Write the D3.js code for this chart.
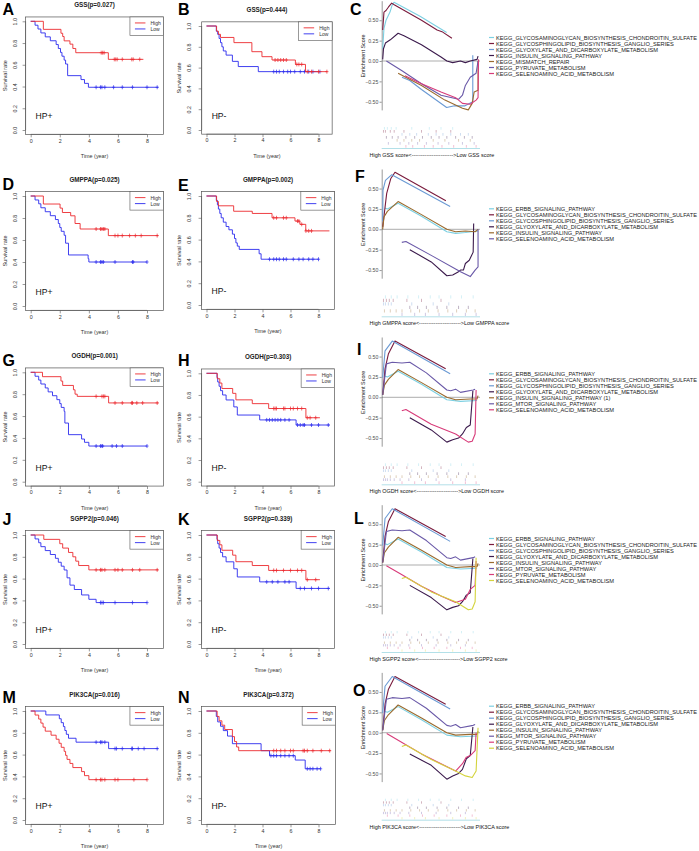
<!DOCTYPE html>
<html><head><meta charset="utf-8">
<script src="https://cdn.jsdelivr.net/npm/d3@7"></script>
<style>
body{margin:0;background:#fff}
svg{display:block}
text{font-family:"Liberation Sans",Arial,Helvetica,sans-serif}
</style></head>
<body><svg id="c" width="699" height="851"></svg>
<script>
// ================= DATA =================
const kmTitles = ["GSS(p=0.027)","GSS(p=0.444)","GMPPA(p=0.025)","GMPPA(p=0.002)","OGDH(p=0.001)","OGDH(p=0.303)","SGPP2(p=0.046)","SGPP2(p=0.339)","PIK3CA(p=0.016)","PIK3CA(p=0.372)"];
const kmGroups = ["HP+","HP-","HP+","HP-","HP+","HP-","HP+","HP-","HP+","HP-"];
const kmLetters = ["A","B","D","E","G","H","J","K","M","N"];
const legendLabels = ["High","Low"];
const xTicks = [0,2,4,6,8];
const yTicks = [0,0.2,0.4,0.6,0.8,1.0];

const A_high = [[0,1],[0.87,0.926],[2.08,0.89],[2.2,0.86],[2.3,0.82],[2.7,0.79],[2.9,0.75],[3.1,0.711],[5.34,0.65],[7.75,0.65]];
const A_highC = [4.85,4.95,5.05,5.75,5.85,5.95,6.3,6.95,7.05,7.5];
const A_low = [[0,1],[0.3,0.964],[0.5,0.929],[0.7,0.893],[1.0,0.857],[1.35,0.821],[1.75,0.786],[1.9,0.75],[2.05,0.714],[2.15,0.679],[2.3,0.643],[2.4,0.607],[2.54,0.5],[3.46,0.464],[3.7,0.429],[3.97,0.393],[8.78,0.393]];
const A_lowC = [4.5,4.8,4.9,5.1,5.7,6.3,7.0,8.0,8.7];

const B_high = [[0,1],[0.72,0.95],[0.85,0.92],[1.0,0.89],[1.96,0.84],[3.24,0.753],[3.96,0.705],[4.68,0.673],[6.35,0.631],[7.07,0.561],[8.63,0.561]];
const B_highC = [4.9,5.1,5.3,5.5,5.7,6.45,6.6,6.8,7.2,7.5,8.0,8.6];
const B_low = [[0,1],[0.7,0.95],[0.8,0.92],[0.9,0.88],[1.0,0.84],[1.1,0.8],[1.2,0.76],[1.4,0.72],[1.85,0.66],[2.27,0.61],[3.7,0.561],[8.1,0.561]];
const B_lowC = [4.8,5.0,5.2,5.5,5.8,6.0,6.3,6.7,7.0,7.3,7.6,8.1];

const D_high = [[0,1],[0.87,0.927],[2.02,0.89],[2.18,0.85],[2.75,0.82],[3.05,0.75],[3.4,0.70],[5.34,0.64],[8.78,0.64]];
const D_highC = [4.5,4.8,4.9,5.0,5.1,5.8,6.0,6.3,6.8,7.2,7.6,8.7];
const D_low = [[0,1],[0.3,0.964],[0.55,0.929],[0.7,0.893],[1.0,0.857],[1.35,0.821],[1.7,0.786],[1.9,0.75],[2.0,0.714],[2.1,0.679],[2.3,0.643],[2.4,0.571],[2.6,0.464],[3.95,0.43],[4.0,0.40],[8.0,0.40]];
const D_lowC = [4.5,4.8,4.9,5.0,5.8,7.0,7.05,8.0];

const E_high = [[0,1],[0.72,0.95],[0.85,0.91],[1.94,0.86],[3.27,0.84],[4.68,0.80],[6.32,0.77],[6.67,0.74],[7.09,0.68],[8.78,0.68]];
const E_highC = [4.8,5.0,5.5,5.7,6.5,6.6,6.8,7.1,7.3,7.5];
const E_low = [[0,1],[0.7,0.96],[0.78,0.92],[0.85,0.88],[0.95,0.84],[1.05,0.8],[1.2,0.76],[1.4,0.72],[1.6,0.69],[1.85,0.65],[2.0,0.61],[2.1,0.57],[2.2,0.54],[2.34,0.51],[3.76,0.47],[3.9,0.42],[8.0,0.42]];
const E_lowC = [4.5,4.8,5.0,5.2,5.5,5.7,6.2,6.6,6.9,7.3,7.6,8.0];

const G_high = [[0,1],[0.81,0.96],[2.08,0.92],[2.2,0.88],[2.94,0.84],[3.05,0.80],[3.2,0.78],[5.36,0.72],[8.79,0.72]];
const G_highC = [4.5,4.9,5.0,5.1,5.8,6.3,6.95,7.0,7.3,7.7,8.7];
const G_low = [[0,1],[0.3,0.964],[0.55,0.929],[0.7,0.893],[1.0,0.857],[1.2,0.821],[1.5,0.786],[1.8,0.75],[2.0,0.714],[2.1,0.679],[2.3,0.643],[2.35,0.536],[2.6,0.43],[3.5,0.39],[3.7,0.36],[4.0,0.326],[8.0,0.326]];
const G_lowC = [4.5,4.8,4.9,4.95,5.6,5.9,6.3,8.0];

const H_high = [[0,1],[0.77,0.95],[0.95,0.91],[1.1,0.86],[1.87,0.815],[2.1,0.755],[3.27,0.72],[4.44,0.675],[7.1,0.59],[8.1,0.59]];
const H_highC = [4.8,4.9,5.0,5.5,5.6,6.0,6.2,6.5,6.8,7.2,7.4,7.8];
const H_low = [[0,1],[0.75,0.96],[0.8,0.92],[0.9,0.88],[1.0,0.84],[1.15,0.8],[1.4,0.754],[1.95,0.69],[2.2,0.615],[3.8,0.57],[6.4,0.523],[8.8,0.523]];
const H_lowC = [4.3,4.5,4.7,4.9,5.1,5.3,5.6,5.9,6.5,6.7,6.9,7.0,7.5,8.0,8.7];

const J_high = [[0,1],[0.9,0.96],[2.0,0.92],[2.2,0.88],[2.6,0.84],[2.9,0.8],[3.1,0.76],[3.3,0.72],[4.0,0.68],[8.78,0.68]];
const J_highC = [4.5,4.8,4.9,5.1,5.8,6.0,6.3,7.0,7.5,8.7];
const J_low = [[0,1],[0.3,0.964],[0.55,0.929],[0.7,0.893],[1.0,0.857],[1.35,0.821],[1.7,0.786],[1.9,0.75],[2.1,0.714],[2.3,0.679],[2.5,0.607],[2.7,0.54],[3.0,0.5],[3.5,0.45],[4.0,0.41],[4.5,0.38],[8.0,0.38]];
const J_lowC = [4.8,4.9,5.0,5.8,7.0,8.0];

const K_high = [[0,1],[0.77,0.95],[0.95,0.91],[1.1,0.86],[1.87,0.815],[2.1,0.755],[3.27,0.72],[4.44,0.675],[7.1,0.59],[8.1,0.59]];
const K_highC = [4.8,5.0,5.5,6.0,6.5,6.8,7.2,7.8];
const K_low = [[0,1],[0.75,0.96],[0.8,0.92],[0.9,0.88],[1.0,0.84],[1.15,0.8],[1.4,0.754],[1.95,0.69],[2.2,0.615],[3.8,0.57],[6.4,0.51],[8.8,0.51]];
const K_lowC = [4.3,4.7,5.1,5.6,5.9,6.7,7.0,7.5,8.0,8.7];

const M_high = [[0,1],[0.3,0.963],[0.55,0.926],[0.7,0.889],[0.85,0.852],[1.0,0.815],[1.4,0.778],[1.75,0.741],[1.95,0.704],[2.1,0.667],[2.3,0.63],[2.4,0.593],[2.5,0.556],[2.7,0.519],[2.9,0.481],[3.5,0.444],[3.7,0.407],[4.0,0.37],[8.0,0.37]];
const M_highC = [4.5,4.8,4.9,5.1,5.8,6.0,7.1,8.0];
const M_low = [[0,1],[1.04,0.964],[1.97,0.929],[2.1,0.893],[2.25,0.857],[2.35,0.821],[2.45,0.786],[2.6,0.75],[3.12,0.714],[5.36,0.655],[8.78,0.655]];
const M_lowC = [4.5,4.8,4.9,5.1,5.8,5.9,6.3,6.95,7.0,7.4,7.8,8.7];

const N_high = [[0,1],[0.76,0.95],[0.9,0.91],[1.1,0.87],[1.3,0.83],[1.85,0.765],[2.0,0.72],[2.15,0.67],[2.3,0.636],[8.87,0.636]];
const N_highC = [4.8,5.0,5.3,5.6,6.0,6.2,6.9,7.0,7.2,7.6,8.2,8.8];
const N_low = [[0,1],[0.7,0.95],[0.8,0.9],[1.0,0.86],[1.2,0.82],[1.5,0.77],[1.85,0.70],[3.9,0.636],[4.5,0.59],[6.34,0.55],[7.05,0.47],[8.15,0.47]];
const N_lowC = [4.6,4.8,5.0,5.3,5.6,5.9,6.2,7.2,7.4,7.6,7.9,8.15];

// GSEA
const gseaLetters = ["C","F","I","L","O"];
const gseaGenes = ["GSS","GMPPA","OGDH","SGPP2","PIK3CA"];
const esTicks = [-0.5,-0.25,0,0.25,0.5];
const C_sets = ["KEGG_GLYCOSAMINOGLYCAN_BIOSYNTHESIS_CHONDROITIN_SULFATE","KEGG_GLYCOSPHINGOLIPID_BIOSYNTHESIS_GANGLIO_SERIES","KEGG_GLYOXYLATE_AND_DICARBOXYLATE_METABOLISM","KEGG_INSULIN_SIGNALING_PATHWAY","KEGG_MISMATCH_REPAIR","KEGG_PYRUVATE_METABOLISM","KEGG_SELENOAMINO_ACID_METABOLISM"];
const F_sets = ["KEGG_ERBB_SIGNALING_PATHWAY","KEGG_GLYCOSAMINOGLYCAN_BIOSYNTHESIS_CHONDROITIN_SULFATE","KEGG_GLYCOSPHINGOLIPID_BIOSYNTHESIS_GANGLIO_SERIES","KEGG_GLYOXYLATE_AND_DICARBOXYLATE_METABOLISM","KEGG_INSULIN_SIGNALING_PATHWAY","KEGG_SELENOAMINO_ACID_METABOLISM"];
const I_sets = ["KEGG_ERBB_SIGNALING_PATHWAY","KEGG_GLYCOSAMINOGLYCAN_BIOSYNTHESIS_CHONDROITIN_SULFATE","KEGG_GLYCOSPHINGOLIPID_BIOSYNTHESIS_GANGLIO_SERIES","KEGG_GLYOXYLATE_AND_DICARBOXYLATE_METABOLISM","KEGG_INSULIN_SIGNALING_PATHWAY (1)","KEGG_MTOR_SIGNALING_PATHWAY","KEGG_SELENOAMINO_ACID_METABOLISM"];
const L_sets = ["KEGG_ERBB_SIGNALING_PATHWAY","KEGG_GLYCOSAMINOGLYCAN_BIOSYNTHESIS_CHONDROITIN_SULFATE","KEGG_GLYCOSPHINGOLIPID_BIOSYNTHESIS_GANGLIO_SERIES","KEGG_GLYOXYLATE_AND_DICARBOXYLATE_METABOLISM","KEGG_INSULIN_SIGNALING_PATHWAY","KEGG_MTOR_SIGNALING_PATHWAY","KEGG_PYRUVATE_METABOLISM","KEGG_SELENOAMINO_ACID_METABOLISM"];
const O_sets = ["KEGG_ERBB_SIGNALING_PATHWAY","KEGG_GLYCOSAMINOGLYCAN_BIOSYNTHESIS_CHONDROITIN_SULFATE","KEGG_GLYCOSPHINGOLIPID_BIOSYNTHESIS_GANGLIO_SERIES","KEGG_GLYOXYLATE_AND_DICARBOXYLATE_METABOLISM","KEGG_INSULIN_SIGNALING_PATHWAY","KEGG_MTOR_SIGNALING_PATHWAY","KEGG_PYRUVATE_METABOLISM","KEGG_SELENOAMINO_ACID_METABOLISM"];

const C_curves = [
 [[0.2,0.15],[1.5,0.4],[3.6,0.5],[5.6,0.55],[7.7,0.6],[9.7,0.68],[11.8,0.72],[38.5,0.55],[65.8,0.35]],
 [[0.2,0.38],[1.5,0.6],[3.6,0.62],[6,0.66],[9.4,0.71],[12,0.69],[40,0.5],[56,0.38],[61,0.36],[71.2,0.28]],
 [[20,-0.2],[28,-0.24],[40,-0.35],[65.8,-0.57],[74,-0.55],[84.6,-0.55],[92.6,-0.5],[92.6,0.07]],
 [[0.2,0.02],[1,0.15],[3,0.22],[8,0.26],[16,0.34],[22,0.31],[40,0.2],[60,0.05],[66,0.0],[72,-0.02],[80,0.0],[85,-0.02],[90,0.0],[97,0.02],[98,0.06]],
 [[16,-0.15],[40,-0.3],[64,-0.48],[82,-0.58],[88,-0.6],[92,-0.52],[94,-0.38],[98,-0.36],[98,0.0]],
 [[4,0.0],[20,-0.12],[40,-0.28],[60,-0.42],[78,-0.47],[82,-0.42],[85,-0.3],[90,-0.2],[96,-0.15],[98,0.0]],
 [[23,-0.18],[40,-0.28],[60,-0.38],[75,-0.45],[82,-0.52],[90,-0.53],[96,-0.48],[98,-0.45],[98.5,0.02]]
];
const F_curves = [
 [[2.5,0.26],[5,0.25],[16,0.32],[40,0.16],[66,-0.03],[75,-0.05],[85,-0.04],[98,-0.02]],
 [[0.2,0.03],[4.3,0.44],[8.4,0.62],[12.8,0.70],[65,0.35]],
 [[0.2,0.1],[0.5,0.48],[3,0.6],[9.5,0.67],[69.4,0.28]],
 [[28,-0.25],[50,-0.4],[66,-0.57],[72,-0.56],[78,-0.52],[80,-0.5],[83,-0.5],[85,-0.42],[89,-0.38],[93,-0.28],[93.5,0.07]],
 [[0.2,0.0],[1.5,0.15],[5,0.22],[16,0.34],[40,0.18],[66,0.0],[75,-0.03],[85,-0.02],[95,-0.03],[98,0.0]],
 [[19.8,-0.16],[24,-0.15],[50,-0.32],[80,-0.52],[90,-0.58],[95,-0.5],[98,-0.46],[98,0.0]]
];
const I_curves = [
 [[2.5,0.26],[5,0.25],[16,0.32],[40,0.16],[66,-0.03],[80,-0.05],[97,-0.04]],
 [[0.2,0.03],[2.6,0.35],[6,0.53],[12.8,0.69],[64.8,0.35]],
 [[0.2,0.24],[2.6,0.57],[10,0.69],[69.4,0.29]],
 [[28,-0.25],[50,-0.4],[66,-0.55],[72,-0.52],[78,-0.5],[82,-0.45],[86,-0.37],[90,-0.34],[92.7,0.08]],
 [[0.2,0.03],[2,0.15],[6,0.22],[16,0.34],[40,0.18],[66,0.0],[75,-0.03],[90,-0.02],[97,-0.02],[98,0.02]],
 [[0.2,0.03],[4,0.41],[10,0.43],[20,0.42],[28,0.43],[45,0.3],[66,0.09],[70,0.08],[75,0.1],[80,0.06],[93,0.09],[95,0.1]],
 [[19.8,-0.165],[24,-0.15],[50,-0.33],[75,-0.45],[88,-0.55],[92,-0.54],[95,-0.45],[96,0.09]]
];
const L_curves = [
 [[2.5,0.26],[5,0.25],[16,0.32],[40,0.16],[66,-0.03],[80,-0.05],[97,-0.04]],
 [[0.2,0.03],[2.6,0.35],[6,0.53],[12.8,0.69],[64.8,0.35]],
 [[0.2,0.24],[2.6,0.57],[10,0.69],[69.4,0.29]],
 [[28,-0.25],[50,-0.4],[66,-0.55],[72,-0.52],[78,-0.5],[82,-0.45],[86,-0.37],[90,-0.34],[92.7,0.08]],
 [[0.2,0.03],[2,0.15],[6,0.22],[16,0.34],[40,0.18],[66,0.0],[75,-0.03],[90,-0.02],[97,-0.02],[98,0.02]],
 [[0.2,0.03],[4,0.41],[10,0.43],[20,0.42],[28,0.43],[45,0.3],[66,0.09],[70,0.08],[75,0.1],[80,0.06],[93,0.09],[95,0.1]],
 [[4,-0.01],[20,-0.12],[40,-0.26],[60,-0.38],[75,-0.46],[85,-0.42],[90,-0.3],[95,-0.25],[96,0.05]],
 [[19.8,-0.165],[24,-0.15],[50,-0.33],[75,-0.45],[88,-0.55],[92,-0.54],[95,-0.45],[96,0.09]]
];
const O_curves = [
 [[2.5,0.26],[5,0.25],[16,0.32],[40,0.16],[66,-0.03],[80,-0.05],[97,-0.04]],
 [[0.2,0.03],[2.6,0.35],[6,0.53],[12.8,0.69],[64.8,0.35]],
 [[0.2,0.24],[2.6,0.57],[10,0.69],[69.4,0.29]],
 [[28,-0.26],[50,-0.4],[66,-0.57],[72,-0.53],[78,-0.5],[82,-0.45],[86,-0.32],[90,-0.28],[92.7,0.07]],
 [[0.2,0.03],[2,0.15],[6,0.22],[16,0.34],[40,0.18],[66,0.0],[75,-0.03],[90,-0.02],[97,-0.02],[98,0.02]],
 [[0.2,0.03],[4,0.41],[10,0.43],[20,0.42],[28,0.43],[45,0.3],[66,0.09],[70,0.08],[75,0.1],[80,0.06],[93,0.09],[95,0.1]],
 [[4.3,-0.01],[20,-0.12],[40,-0.26],[60,-0.38],[75,-0.47],[82,-0.38],[86,-0.3],[90,-0.28],[95,-0.22],[96,0.0]],
 [[19.8,-0.17],[24,-0.15],[50,-0.33],[75,-0.47],[85,-0.53],[92,-0.55],[96,-0.47],[98,0.06]]
];
const C_hits = [[2,5,9,14,30,48,60,72],[1,3,8,12,22,40,55,70],[20,28,35,47,55,62,70,80,88],[4,10,16,24,33,41,50,58,66,75,84,92],[15,22,30,38,52,64,78,90],[6,18,27,36,45,57,68,82,94],[24,31,43,52,61,73,86,96]];
const F_hits = [[3,9,15,26,37,49,58,70,81,93],[1,4,7,11,25,40,60],[1,3,6,9,30,52,68],[28,36,45,56,66,78,88],[2,8,14,20,29,38,47,57,67,76,86,95],[20,33,44,58,72,85,96]];
const I_hits = [[3,9,15,26,37,49,58,70,81,93],[1,4,7,11,25,40,60],[1,3,6,9,30,52,68],[28,36,45,56,66,78,88],[2,8,14,20,29,38,47,57,67,76,86,95],[1,3,5,8,12,18,27,40,55,70,85],[20,33,44,58,72,85,96]];
const L_hits = [[3,9,15,26,37,49,58,70,81,93],[1,4,7,11,25,40,60],[1,3,6,9,30,52,68],[28,36,45,56,66,78,88],[2,8,14,20,29,38,47,57,67,76,86,95],[1,3,5,8,12,18,27,40,55,70,85],[5,16,28,41,53,66,80,92],[20,33,44,58,72,85,96]];
const O_hits = [[3,9,15,26,37,49,58,70,81,93],[1,4,7,11,25,40,60],[1,3,6,9,30,52,68],[28,36,45,56,66,78,88],[2,8,14,20,29,38,47,57,67,76,86,95],[1,3,5,8,12,18,27,40,55,70,85],[5,16,28,41,53,66,80,92],[20,33,44,58,72,85,96]];

// ================= STYLE / LAYOUT =================
const RED = "#ec2a2f", BLUE = "#2b2bee";
const setColors = ["#7dd0e2","#7a1b3d","#6b9ad4","#3b1a4c","#9a6a2e","#6a59a8","#d83c7a","#d4d43e"];
const kmCols = [
  {x0:30.7, x8:147, tickLabX:15, ylabX:4.5, letterX:2.5},
  {x0:206.5, x8:318.5, tickLabX:189.3, ylabX:178.5, letterX:178}
];
const kmRows = [
  {y1:21.3,y0:130},{y1:26,y0:130},
  {y1:196,y0:306},{y1:196,y0:305},
  {y1:372.3,y0:481.7},{y1:373.3,y0:481.7},
  {y1:535,y0:644},{y1:535,y0:644},
  {y1:711,y0:820},{y1:711,y0:820}
];
const kmLetterY = [15,15,190,190.5,366,366,525,525,703,702.7];
const gseaLayout = [
  {es0:61, letterX:350, letterY:15},
  {es0:229.3, letterX:355, letterY:182},
  {es0:397.3, letterX:357, letterY:355},
  {es0:565, letterX:354, letterY:524},
  {es0:732.7, letterX:353, letterY:696}
];

const svg = d3.select("#c");
const kmData = [
 [A_high,A_highC,A_low,A_lowC],[B_high,B_highC,B_low,B_lowC],
 [D_high,D_highC,D_low,D_lowC],[E_high,E_highC,E_low,E_lowC],
 [G_high,G_highC,G_low,G_lowC],[H_high,H_highC,H_low,H_lowC],
 [J_high,J_highC,J_low,J_lowC],[K_high,K_highC,K_low,K_lowC],
 [M_high,M_highC,M_low,M_lowC],[N_high,N_highC,N_low,N_lowC]
];

function survAt(steps, t){ let s = steps[0][1]; for (const d of steps) if (d[0] <= t) s = d[1]; return s; }

kmData.forEach((dd, i) => {
  const col = kmCols[i % 2], row = kmRows[i];
  const [hi, hiC, lo, loC] = dd;
  const x = d3.scaleLinear().domain([0,8]).range([col.x0, col.x8]);
  const y = d3.scaleLinear().domain([0,1]).range([row.y0, row.y1]);
  const maxT = d3.max(hi.concat(lo), d => d[0]);
  const bl = x(-0.04*maxT), br = x(1.04*maxT), bt = y(1.04), bb = y(-0.04);
  const g = svg.append("g");
  const xa = g.append("g").attr("transform",`translate(0,${bb})`)
    .call(d3.axisBottom(x).tickValues(xTicks).tickSize(3).tickSizeOuter(0).tickPadding(1.5));
  xa.select(".domain").attr("d", `M${x(0)},0H${x(8)}`).attr("stroke","#555").attr("stroke-width",0.6);
  xa.selectAll(".tick line").attr("stroke","#555").attr("stroke-width",0.6);
  xa.selectAll(".tick text").attr("font-size",5.3).attr("fill","#333").attr("font-family",null);
  const ya = g.append("g").attr("transform",`translate(${bl},0)`)
    .call(d3.axisLeft(y).tickValues(yTicks).tickSize(3).tickSizeOuter(0).tickFormat(d3.format(".1f")));
  ya.select(".domain").attr("d", `M0,${y(0)}V${y(1)}`).attr("stroke","#555").attr("stroke-width",0.6);
  ya.selectAll(".tick line").attr("stroke","#555").attr("stroke-width",0.6);
  ya.selectAll(".tick text").attr("font-size",5.3).attr("fill","#333").attr("font-family",null)
    .attr("x",0).attr("dy",null).attr("text-anchor","middle").attr("dominant-baseline","central")
    .attr("transform", `translate(${col.tickLabX - bl},0) rotate(-90)`);
  g.append("rect").attr("x",bl).attr("y",bt).attr("width",br-bl).attr("height",bb-bt)
    .attr("fill","none").attr("stroke","#555").attr("stroke-width",0.7);
  g.append("text").attr("x",(bl+br)/2).attr("y",row.y1-14.5).attr("text-anchor","middle")
    .attr("font-size",6.3).attr("font-weight","bold").attr("fill","#222").text(kmTitles[i]);
  g.append("text").attr("x",(bl+br)/2).attr("y",bb+24).attr("text-anchor","middle")
    .attr("font-size",5.4).attr("fill","#333").text("Time (year)");
  g.append("text").attr("transform",`translate(${col.ylabX},${(row.y0+row.y1)/2}) rotate(-90)`)
    .attr("text-anchor","middle").attr("dominant-baseline","central")
    .attr("font-size",5.6).attr("fill","#333").text("Survival rate");
  g.append("text").attr("x",bl+10).attr("y",row.y0-11).attr("font-size",8.6).attr("fill","#111").text(kmGroups[i]);
  g.append("text").attr("x",col.letterX).attr("y",kmLetterY[i]).attr("font-size",16).attr("font-weight","bold").attr("fill","#000").text(kmLetters[i]);
  const line = d3.line().x(d=>x(d[0])).y(d=>y(d[1])).curve(d3.curveStepAfter);
  [[lo,loC,BLUE],[hi,hiC,RED]].forEach(([st,cs,colr]) => {
    g.append("path").attr("d",line(st)).attr("fill","none").attr("stroke",colr).attr("stroke-width",0.9);
    cs.forEach(c => {
      const cx = x(c), cy = y(survAt(st,c));
      g.append("path").attr("d",`M${cx},${cy-2}V${cy+2}M${cx-1.6},${cy}H${cx+1.6}`).attr("stroke",colr).attr("stroke-width",0.7);
    });
  });
  const lw = 33.5, lh = 18.5, lx = br - lw, ly = bt;
  g.append("rect").attr("x",lx).attr("y",ly).attr("width",lw).attr("height",lh).attr("fill","#fff").attr("stroke","#555").attr("stroke-width",0.6);
  [RED,BLUE].forEach((colr,k) => {
    const yy = ly + 6 + k*6;
    g.append("line").attr("x1",lx+5).attr("x2",lx+15.5).attr("y1",yy).attr("y2",yy).attr("stroke",colr).attr("stroke-width",0.9);
    g.append("text").attr("x",lx+20.5).attr("y",yy).attr("dominant-baseline","central").attr("font-size",5).attr("fill","#333").text(legendLabels[k]);
  });
});

// ================= GSEA =================
const gseaSets = [C_sets,F_sets,I_sets,L_sets,O_sets];
const gseaCurves = [C_curves,F_curves,I_curves,L_curves,O_curves];
const gseaHits = [C_hits,F_hits,I_hits,L_hits,O_hits];
const AXX = 381.7, PPU = 81.5;

gseaLayout.forEach((lay, i) => {
  const es0 = lay.es0;
  const x = d3.scaleLinear().domain([0,100]).range([382.5,480]);
  const y = d3.scaleLinear().domain([-0.6,0.74]).range([es0+0.6*PPU, es0-0.74*PPU]);
  const g = svg.append("g");
  g.append("text").attr("x",lay.letterX).attr("y",lay.letterY).attr("font-size",16).attr("font-weight","bold").attr("fill","#000").text(gseaLetters[i]);
  g.append("line").attr("x1",AXX).attr("x2",480).attr("y1",y(0)).attr("y2",y(0)).attr("stroke","#8a8a8a").attr("stroke-width",0.7);
  const ya = g.append("g").attr("transform",`translate(${AXX},0)`)
    .call(d3.axisLeft(y).tickValues(esTicks).tickSize(2.2).tickSizeOuter(0).tickPadding(1.2).tickFormat(d3.format(".2f")));
  ya.select(".domain").attr("stroke","#555").attr("stroke-width",0.6);
  ya.selectAll(".tick line").attr("stroke","#555").attr("stroke-width",0.6);
  ya.selectAll(".tick text").attr("font-size",5.2).attr("fill","#4d4d4d").attr("font-family",null);
  g.append("text").attr("transform",`translate(363,${es0-5}) rotate(-90)`).attr("text-anchor","middle")
    .attr("dominant-baseline","central").attr("font-size",5.45).attr("fill","#222").text("Enrichment Score");
  const line = d3.line().x(d=>x(d[0])).y(d=>y(d[1]));
  gseaCurves[i].forEach((c,k) => {
    g.append("path").attr("d",line(c)).attr("fill","none").attr("stroke",setColors[k]).attr("stroke-width",1.1).attr("stroke-linejoin","round");
  });
  const hits = gseaHits[i], n = hits.length, rugTop = es0+66, rowH = 21/n;
  hits.forEach((h,k) => {
    h.forEach(r => {
      g.append("line").attr("x1",x(r)).attr("x2",x(r)).attr("y1",rugTop+k*rowH).attr("y2",rugTop+(k+1)*rowH-0.3)
        .attr("stroke",setColors[k]).attr("stroke-opacity",0.55).attr("stroke-width",0.6);
    });
  });
  g.append("line").attr("x1",AXX).attr("x2",480).attr("y1",es0+87.5).attr("y2",es0+87.5).attr("stroke","#9fd8e2").attr("stroke-width",0.8);
  g.append("text").attr("x",369.5).attr("y",es0+94).attr("dominant-baseline","central").attr("font-size",5.45).attr("fill","#111")
    .text(`High ${gseaGenes[i]} score<${"-".repeat(23)}>Low ${gseaGenes[i]} score`);
  const sets = gseaSets[i], n2 = sets.length, sp = 6.0;
  const ly0 = es0 - 5.5 - (n2-1)*sp/2;
  sets.forEach((s,k) => {
    const yy = ly0 + k*sp;
    g.append("line").attr("x1",489).attr("x2",494).attr("y1",yy).attr("y2",yy).attr("stroke",setColors[k]).attr("stroke-width",1.2);
    g.append("text").attr("x",496).attr("y",yy).attr("dominant-baseline","central").attr("font-size",5.7).attr("fill","#222").text(s);
  });
});
</script></body></html>
